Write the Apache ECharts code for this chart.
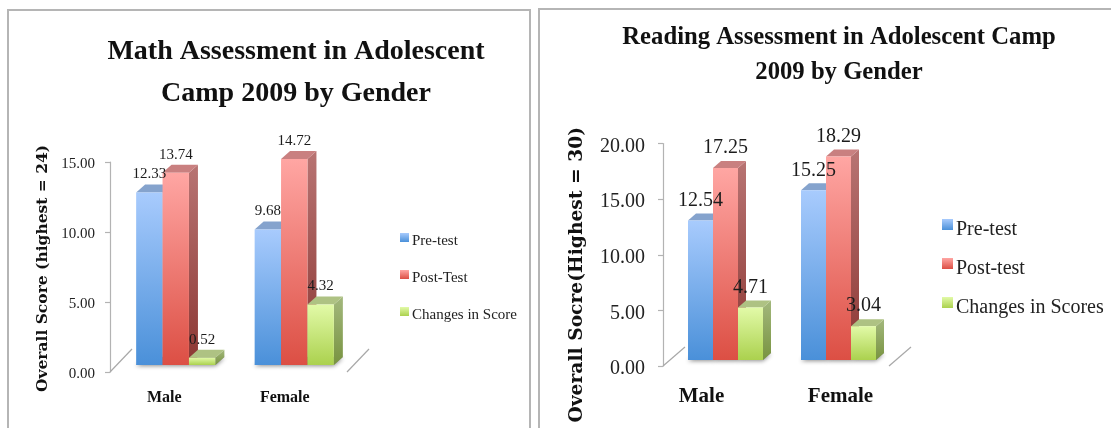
<!DOCTYPE html>
<html>
<head>
<meta charset="utf-8">
<style>
  html, body { margin: 0; padding: 0; background: #fff; }
  #main { width: 1111px; height: 428px; }
</style>
<script src="https://cdn.jsdelivr.net/npm/echarts@6/dist/echarts.min.js"></script>
</head>
<body>
<div id="main"></div>
<script>
var categories = ['Male', 'Female'];

var mathNames = ['Pre-test', 'Post-Test', 'Changes in Score'];
var mathPre = [12.33, 9.68];
var mathPost = [13.74, 14.72];
var mathChange = [0.52, 4.32];

var readNames = ['Pre-test', 'Post-test', 'Changes in Scores'];
var readPre = [12.54, 15.25];
var readPost = [17.25, 18.29];
var readChange = [4.71, 3.04];

var serif = '"Liberation Serif", "DejaVu Serif", serif';
var wideSerif = '"DejaVu Serif", serif';

function grad(a, b) {
  return { type: 'linear', x: 0, y: 0, x2: 0, y2: 1, colorStops: [{ offset: 0, color: a }, { offset: 1, color: b }] };
}

var colors = [
  { front: grad('#a8cbfd', '#4a90d9'), cap: '#85a3cd', side: grad('#7f9fc9', '#3b73ad') },
  { front: grad('#ffa6a3', '#dc4f44'), cap: '#c98080', side: grad('#b87473', '#8c3733') },
  { front: grad('#e2faa8', '#abd14e'), cap: '#aec283', side: grad('#a3b87d', '#789340') }
];

// draws one box of the 3d look, position comes from the axis scales
function boxItem(idx, cfg) {
  return function (params, api) {
    var cat = api.value(0), val = api.value(1);
    var top = api.coord([cat, val]);
    var zero = api.coord([cat, 0]);
    var x0 = top[0] + cfg.shift + (idx - 1.5) * cfg.barW;
    var x1 = x0 + cfg.barW;
    var y0 = top[1] - cfg.lift;
    var y1 = zero[1] - cfg.lift;
    var dx = cfg.dx, dy = cfg.dy;
    var c = colors[idx];
    return {
      type: 'group',
      children: [
        {
          type: 'polygon', z2: -1,
          shape: { points: [[x0, y1], [x1, y1], [x1 + dx, y1 - dy], [x0 + dx, y1 - dy]] },
          style: { fill: '#999', shadowBlur: 4, shadowColor: 'rgba(0,0,0,0.45)', shadowOffsetY: 1 }
        },
        {
          type: 'polygon',
          shape: { points: [[x1, y0], [x1 + dx, y0 - dy], [x1 + dx, y1 - dy], [x1, y1]] },
          style: { fill: c.side }
        },
        {
          type: 'polygon',
          shape: { points: [[x0, y0], [x0 + dx, y0 - dy], [x1 + dx, y0 - dy], [x1, y0]] },
          style: { fill: c.cap }
        },
        {
          type: 'rect',
          shape: { x: x0, y: y0, width: cfg.barW, height: y1 - y0 },
          style: { fill: c.front }
        },
        {
          type: 'text', z2: 100,
          style: {
            x: (x0 + x1) / 2, y: y0 - cfg.labelUp,
            text: val.toFixed(2), align: 'center', verticalAlign: 'middle',
            fill: '#1c1c1c', font: cfg.labelSize + 'px ' + serif
          }
        }
      ]
    };
  };
}

// the slanted floor lines at both ends of the category axis
function floorItem(cfg) {
  return function (params, api) {
    var cat = api.value(0);
    var p = api.coord([cat, 0]);
    var band = api.size([1, 0])[0];
    var x = p[0] + (cat === 0 ? -band / 2 : band / 2);
    return {
      type: 'line',
      shape: { x1: x, y1: p[1], x2: x + cfg.floorX, y2: p[1] - cfg.floorY },
      style: { stroke: '#a8a8a8', lineWidth: 1.2, fill: null }
    };
  };
}

function boxSeries(name, values, idx, axis, cfg) {
  return {
    name: name, type: 'custom', xAxisIndex: axis, yAxisIndex: axis,
    itemStyle: { color: colors[idx].front },
    encode: { x: 0, y: 1 },
    data: values.map(function (v, i) { return [i, v]; }),
    renderItem: boxItem(idx, cfg)
  };
}

function floorSeries(axis, cfg) {
  return {
    name: 'floor', type: 'custom', xAxisIndex: axis, yAxisIndex: axis,
    silent: true, encode: { x: 0, y: 1 },
    data: categories.map(function (c, i) { return [i, 0]; }),
    renderItem: floorItem(cfg)
  };
}

var mathCfg = { barW: 26.4, shift: 6.5, lift: 7, dx: 9, dy: 8, labelUp: 18, labelSize: 15, floorX: 22, floorY: 23 };
var readCfg = { barW: 25, shift: 6, lift: 6, dx: 8, dy: 7, labelUp: 20, labelSize: 20, floorX: 22, floorY: 19 };

function frame(points) {
  return { type: 'polyline', silent: true, shape: { points: points }, style: { stroke: '#b5b5b5', lineWidth: 2, fill: null } };
}

function xAxisFor(grid, size, margin, pads) {
  var rich = {};
  categories.forEach(function (c, i) {
    rich['c' + i] = { fontFamily: serif, fontWeight: 'bold', fontSize: size, color: '#111', padding: pads[i] };
  });
  return {
    type: 'category', gridIndex: grid, data: categories,
    axisLine: { show: false }, axisTick: { show: false },
    axisLabel: {
      margin: margin,
      formatter: function (v) { return '{c' + categories.indexOf(v) + '|' + v + '}'; },
      rich: rich
    }
  };
}

function yAxisFor(grid, max, size, margin, labelPad, name, nameSize, gap, namePad) {
  return {
    type: 'value', gridIndex: grid, min: 0, max: max, interval: 5,
    name: name, nameLocation: 'middle', nameGap: gap,
    nameTextStyle: { fontFamily: wideSerif, fontWeight: 'bold', fontSize: nameSize, color: '#111', padding: namePad },
    axisLine: { show: true, lineStyle: { color: '#b3b3b3', width: 1.2 } },
    axisTick: { show: true, length: 5, lineStyle: { color: '#b3b3b3', width: 1.2 } },
    splitLine: { show: false },
    axisLabel: {
      margin: margin,
      formatter: function (v) { return '{v|' + v.toFixed(2) + '}'; },
      rich: { v: { fontFamily: serif, fontSize: size, color: '#222', padding: labelPad } }
    }
  };
}

function legendFor(names, left, top, box, gap, size, lineH, pad) {
  return {
    orient: 'vertical', left: left, top: top, itemWidth: box, itemHeight: box, itemGap: gap, icon: 'rect',
    selectedMode: false, data: names,
    formatter: function (n) { return '{t|' + n + '}'; },
    textStyle: {
      padding: [0, 0, 0, -2],
      rich: { t: { fontFamily: serif, fontSize: size, color: '#222', lineHeight: lineH, padding: [pad, 0, 0, 0] } }
    }
  };
}

var chart = echarts.init(document.getElementById('main'), null, { renderer: 'canvas' });
chart.setOption({
  animation: false,
  backgroundColor: '#fff',
  title: [
    {
      text: 'Math Assessment in Adolescent\nCamp 2009 by Gender', left: 291, top: 26, textAlign: 'center',
      textStyle: { fontFamily: serif, fontWeight: 'bold', fontSize: 28, lineHeight: 42, color: '#111' }
    },
    {
      text: 'Reading Assessment in Adolescent Camp\n2009 by Gender', left: 834, top: 15, textAlign: 'center',
      textStyle: { fontFamily: serif, fontWeight: 'bold', fontSize: 24.7, lineHeight: 35, color: '#111' }
    }
  ],
  legend: [
    legendFor(mathNames, 395, 221, 9, 14, 15, 17, 8),
    legendFor(readNames, 937, 204, 11, 8, 20, 23, 11)
  ],
  grid: [
    { left: 110, top: 162, width: 237, height: 210 },
    { left: 663, top: 143.5, width: 226, height: 222.5 }
  ],
  xAxis: [
    xAxisFor(0, 16, 18, [[0, 10, 0, 0], [0, 6, 0, 0]]),
    xAxisFor(1, 21, 20, [[0, 36, 0, 0], [0, 0, 0, 16]])
  ],
  yAxis: [
    yAxisFor(0, 15, 15, 15, [4, 0, 0, 0], 'Overall Score (highest = 24)', 15.5, 59, [0, 3, 0, 0]),
    yAxisFor(1, 20, 20, 18, [6, 0, 0, 0], 'Overall Socre(Highest = 30)', 18.7, 76, [0, 40, 0, 0])
  ],
  series: [
    floorSeries(0, mathCfg),
    boxSeries(mathNames[0], mathPre, 0, 0, mathCfg),
    boxSeries(mathNames[1], mathPost, 1, 0, mathCfg),
    boxSeries(mathNames[2], mathChange, 2, 0, mathCfg),
    floorSeries(1, readCfg),
    boxSeries(readNames[0], readPre, 0, 1, readCfg),
    boxSeries(readNames[1], readPost, 1, 1, readCfg),
    boxSeries(readNames[2], readChange, 2, 1, readCfg)
  ],
  graphic: [
    frame([[8, 428], [8, 10], [530, 10], [530, 428]]),
    frame([[539, 428], [539, 9], [1111, 9]])
  ]
});
</script>
</body>
</html>
